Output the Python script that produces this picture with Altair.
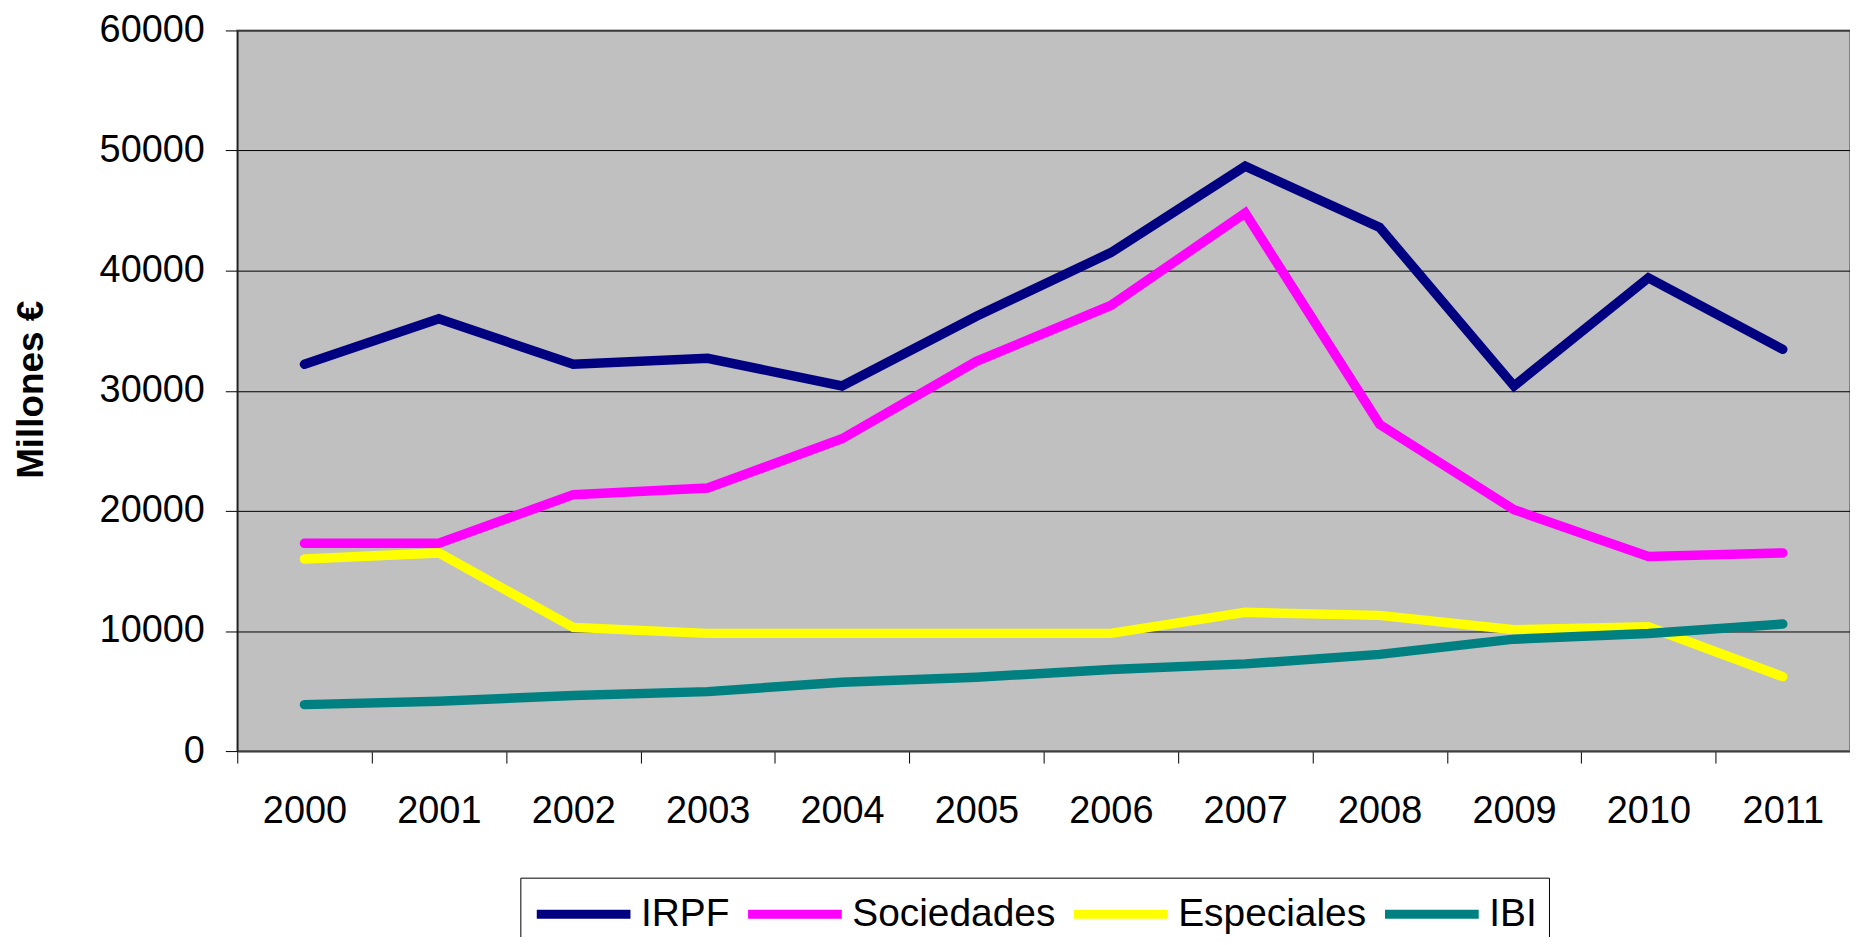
import altair as alt
import pandas as pd

years = ["2000", "2001", "2002", "2003", "2004", "2005",
         "2006", "2007", "2008", "2009", "2010", "2011"]
series_names = ["IRPF", "Sociedades", "Especiales", "IBI"]
series_colors = ["#000080", "#FF00FF", "#FFFF00", "#008080"]

irpf = [32200, 36000, 32200, 32700, 30400, 36200, 41500, 48700, 43600, 30400, 39400, 33450]
sociedades = [17300, 17300, 21350, 21900, 26000, 32450, 37100, 44800, 27200, 20100, 16200, 16500]
especiales = [16000, 16500, 10300, 9800, 9800, 9800, 9800, 11550, 11300, 10100, 10350, 6200]
ibi = [3870, 4150, 4630, 4950, 5730, 6150, 6790, 7260, 8050, 9320, 9790, 10580]

y_ticks = [0, 10000, 20000, 30000, 40000, 50000, 60000]

rows = []
for name, vals in zip(series_names, [irpf, sociedades, especiales, ibi]):
    for yr, v in zip(years, vals):
        rows.append({"Año": yr, "Impuesto": name, "Valor": v})
df = pd.DataFrame(rows)

FONT = "Liberation Sans"

chart = alt.Chart(df).mark_line(
    strokeWidth=9.5, strokeCap="round", strokeJoin="miter"
).encode(
    x=alt.X("Año:N", sort=years,
            scale=alt.Scale(paddingInner=0, paddingOuter=0),
            axis=alt.Axis(title=None, labelAngle=0, tickBand="extent",
                          tickSize=12, labelPadding=30, labelFontSize=38,
                          labelFont=FONT, labelColor="black",
                          tickColor="black", domainColor="#404040",
                          domainWidth=2, grid=False)),
    y=alt.Y("Valor:Q",
            scale=alt.Scale(domain=[0, 60000], nice=False),
            axis=alt.Axis(title="Millones €", values=y_ticks, format="d",
                          tickSize=12, labelPadding=21, labelFontSize=38,
                          labelFont=FONT, labelColor="black",
                          tickColor="black", domainColor="#202020",
                          domainWidth=1.5,
                          grid=True, gridColor="black", gridWidth=1,
                          titleFont=FONT, titleFontSize=37,
                          titleFontWeight="bold", titleColor="black",
                          titleAngle=270, titleAlign="center",
                          titleBaseline="alphabetic",
                          titleX=-195, titleY=360)),
    color=alt.Color("Impuesto:N", sort=series_names,
                    scale=alt.Scale(domain=series_names, range=series_colors),
                    legend=alt.Legend(title=None, orient="none",
                                      legendX=284, legendY=850,
                                      direction="horizontal",
                                      symbolType="M-1,0H3.7",
                                      symbolSize=1600,
                                      symbolStrokeWidth=9,
                                      labelFontSize=39, labelFont=FONT,
                                      labelColor="black", labelOffset=60,
                                      columnPadding=0, padding=12,
                                      strokeColor="black", fillColor="white",
                                      labelLimit=400)),
).properties(
    width=1618,
    height=723,
    padding={"left": 230, "top": 21, "right": 0, "bottom": 185},
    autosize=alt.AutoSizeParams(type="none"),
    background="white",
).configure_view(
    fill="#C0C0C0", stroke="#808080", strokeWidth=2
)

chart.save("out.html", embed_options={"renderer": "svg", "actions": False})
